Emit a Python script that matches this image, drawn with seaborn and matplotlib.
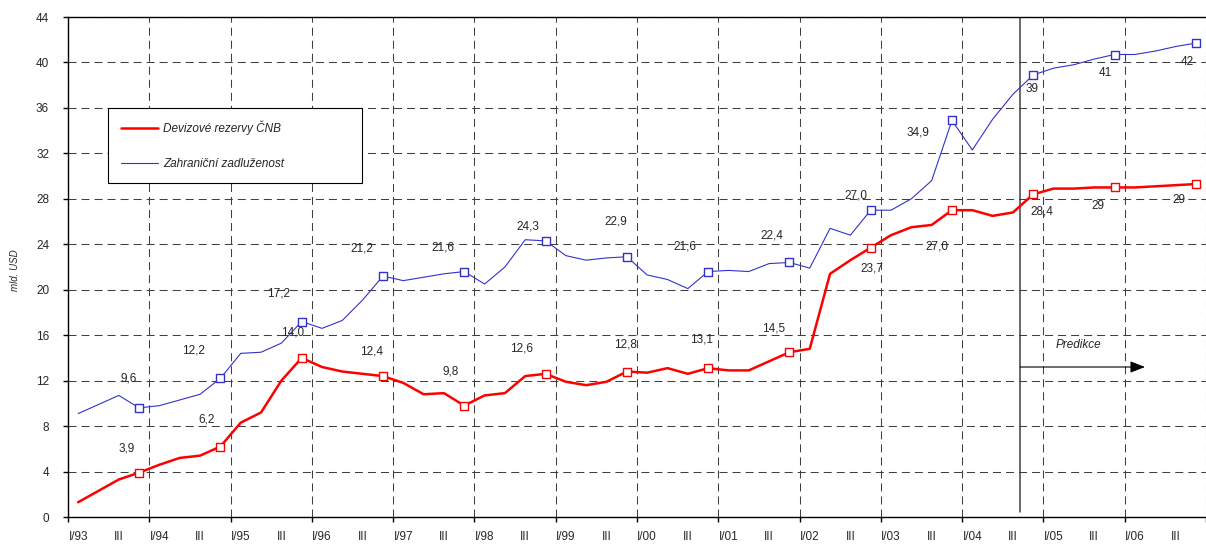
import numpy as np
import pandas as pd
import matplotlib.pyplot as plt
import seaborn as sns
from matplotlib.lines import Line2D

# quarterly data I/93 - IV/06, mld. USD
years = ['93', '94', '95', '96', '97', '98', '99', '00', '01', '02', '03', '04', '05', '06']
quarters = ['I', 'II', 'III', 'IV']

reserves = [1.3, 2.3, 3.3, 3.9,
            4.6, 5.2, 5.4, 6.2,
            8.3, 9.2, 12.0, 14.0,
            13.2, 12.8, 12.6, 12.4,
            11.8, 10.8, 10.9, 9.8,
            10.7, 10.9, 12.4, 12.6,
            11.9, 11.6, 11.9, 12.8,
            12.7, 13.1, 12.6, 13.1,
            12.9, 12.9, 13.7, 14.5,
            14.8, 21.4, 22.6, 23.7,
            24.8, 25.5, 25.7, 27.0,
            27.0, 26.5, 26.8, 28.4,
            28.9, 28.9, 29.0, 29.0,
            29.0, 29.1, 29.2, 29.3]

debt = [9.1, 9.9, 10.7, 9.6,
        9.8, 10.3, 10.8, 12.2,
        14.4, 14.5, 15.3, 17.2,
        16.6, 17.3, 19.1, 21.2,
        20.8, 21.1, 21.4, 21.6,
        20.5, 22.0, 24.4, 24.3,
        23.0, 22.6, 22.8, 22.9,
        21.3, 20.9, 20.1, 21.6,
        21.7, 21.6, 22.3, 22.4,
        21.9, 25.4, 24.8, 27.0,
        27.0, 28.0, 29.6, 34.9,
        32.3, 35.0, 37.2, 38.9,
        39.5, 39.8, 40.3, 40.7,
        40.7, 41.0, 41.4, 41.7]

reserve_labels = ['3,9', '6,2', '14,0', '12,4', '9,8', '12,6', '12,8',
                  '13,1', '14,5', '23,7', '27,0', '28,4', '29', '29']
debt_labels = ['9,6', '12,2', '17,2', '21,2', '21,6', '24,3', '22,9',
               '21,6', '22,4', '27,0', '34,9', '39', '41', '42']

# label offsets in pixels from the IV-quarter markers
reserve_offsets = [(-12, 24), (-14, 27), (-9, 25), (-11, 25), (-14, 34), (-24, 25), (-1, 27),
                   (-7, 29), (-16, 24), (1, -21), (-15, -36), (9, -17), (-17, -19), (-17, -16)]
debt_offsets = [(-10, 29), (-27, 28), (-23, 28), (-21, 28), (-21, 24), (-18, 14), (-11, 35),
                (-23, 25), (-18, 27), (-15, 15), (-34, -12), (-1, -14), (-9, -19), (-9, -19)]

periods = [q + '/' + y for y in years for q in quarters]
df = pd.DataFrame({'period': periods, 'q': np.arange(len(periods)),
                   'reserves': reserves, 'debt': debt})
ends = df[df['period'].str.startswith('IV/')]

red = '#FF0000'
blue = '#3333CC'
grid_col = '#404040'
dash = (0, (7.7, 4.8))

sns.set_style('white')
plt.rcParams['font.family'] = ['Liberation Sans', 'DejaVu Sans']

fig = plt.figure(figsize=(12.06, 5.44), dpi=100)
ax = fig.add_axes([68 / 1206, 27 / 544, 1138 / 1206, 500 / 544])

sns.lineplot(data=df, x='q', y='debt', color=blue, linewidth=0.8, ax=ax, zorder=3)
sns.lineplot(data=df, x='q', y='reserves', color=red, linewidth=1.8, ax=ax, zorder=3)
sns.scatterplot(data=ends, x='q', y='debt', marker='s', s=26, facecolor='white',
                edgecolor=blue, linewidth=1, ax=ax, zorder=4)
sns.scatterplot(data=ends, x='q', y='reserves', marker='s', s=26, facecolor='white',
                edgecolor=red, linewidth=1, ax=ax, zorder=4)

for (q, v), txt, off in zip(ends[['q', 'debt']].values, debt_labels, debt_offsets):
    ax.annotate(txt, (q, v), xytext=off, textcoords='offset pixels',
                ha='center', va='center', fontsize=8.5, zorder=5)
for (q, v), txt, off in zip(ends[['q', 'reserves']].values, reserve_labels, reserve_offsets):
    ax.annotate(txt, (q, v), xytext=off, textcoords='offset pixels',
                ha='center', va='center', fontsize=8.5, zorder=5)

# axes
ax.set_xlim(-0.5, 55.5)
ax.set_ylim(0, 44)
ax.set_yticks(range(0, 45, 4))
ax.set_xticks(df['q'][::2])
ax.set_xticklabels([p if p.startswith('I/') else 'III' for p in df['period'][::2]])
ax.set_xticks(np.arange(-0.5, 56, 4), minor=True)
ax.set_xlabel('')
ax.set_ylabel('')

ax.grid(axis='y', which='major', color=grid_col, linestyle=dash, linewidth=0.75)
ax.grid(axis='x', which='major', visible=False)
ax.grid(axis='x', which='minor', color=grid_col, linestyle=dash, linewidth=0.75)

ax.tick_params(axis='y', left=True, direction='out', length=3.6, width=1,
               color='black', pad=10, labelsize=8.5)
ax.tick_params(axis='x', which='major', bottom=True, length=0, pad=10, labelsize=8.5)
ax.tick_params(axis='x', which='minor', bottom=True, direction='out', length=3.6,
               width=1, color='black')

for side in ['left', 'bottom', 'top']:
    ax.spines[side].set_color('black')
    ax.spines[side].set_linewidth(1.0)
ax.spines['right'].set_visible(False)

# prediction marker
split_q = 46.35
ax.axvline(split_q, ymin=0.01, ymax=1, color=grid_col, linewidth=1.1, zorder=2)
ax.annotate('', xy=(52.5, 13.2), xytext=(split_q, 13.2),
            arrowprops=dict(arrowstyle='-|>,head_length=0.9,head_width=0.35',
                            color='black', lw=0.8, mutation_scale=10,
                            shrinkA=0, shrinkB=0), zorder=5)
ax.text(49.2, 15.1, 'Predikce', style='italic', ha='center', va='center', fontsize=8.5)

handles = [Line2D([], [], color=red, linewidth=1.8),
           Line2D([], [], color=blue, linewidth=0.8)]
leg = ax.legend(handles, ['Devizové rezervy ČNB', 'Zahraniční zadluženost'],
                loc='upper left', bbox_to_anchor=(0.0351, 0.676, 0.223, 0.142),
                mode='expand', borderaxespad=0, frameon=True, fancybox=False,
                edgecolor='black', framealpha=1, prop=dict(style='italic', size=8.5),
                handlelength=3.1, handletextpad=0.5, labelspacing=1.9, borderpad=1.1)
leg.get_frame().set_linewidth(0.8)
leg.set_zorder(6)

fig.text(15 / 1206, 1 - 270 / 544, 'mld. USD', rotation=90, style='italic',
         fontsize=7, ha='center', va='center')

fig.savefig('out.png', dpi=100)
